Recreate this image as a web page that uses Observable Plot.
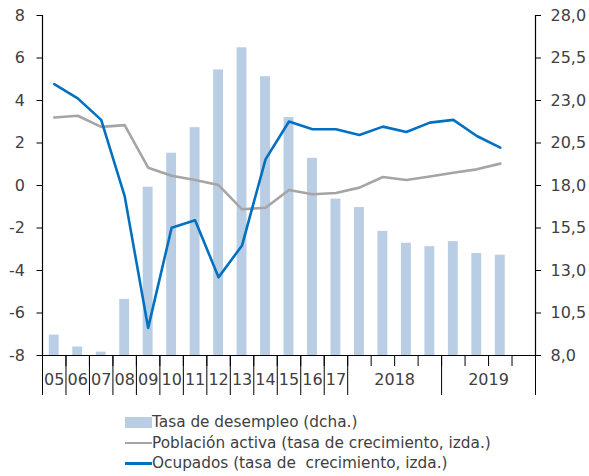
<!DOCTYPE html>
<html><head><meta charset="utf-8">
<script src="https://cdn.jsdelivr.net/npm/d3@7"></script>
<script src="https://cdn.jsdelivr.net/npm/@observablehq/plot@0.6"></script>
<style>
body{margin:0;background:#fff;font-family:"DejaVu Sans",sans-serif;color:#404040}
#chart svg{display:block}
#legend{margin-top:12px;padding-left:125px;font-size:15.3px}
.row{display:flex;align-items:center;height:20.5px;white-space:pre}
.sw{width:27px;height:11px}
.ln{width:27px;height:2.5px}
</style></head><body>
<div id="chart"></div>
<div id="legend"></div>
<script>
const periods = ["05","06","07","08","09","10","11","12","13","14","15","16","17",
  "2018T1","2018T2","2018T3","2018T4","2019T1","2019T2","2019T3","2019T4"];
const desempleo = [9.2,8.5,8.2,11.3,17.9,19.9,21.4,24.8,26.1,24.4,22.0,19.6,17.2,16.7,15.3,14.6,14.4,14.7,14.0,13.9,null];
const activa = [3.2,3.28,2.76,2.84,0.84,0.46,0.26,0.02,-1.12,-1.05,-0.21,-0.41,-0.35,-0.1,0.4,0.26,0.42,0.6,0.76,1.03,null];
const ocupados = [4.77,4.1,3.09,-0.5,-6.7,-1.99,-1.64,-4.32,-2.82,1.23,3.01,2.65,2.65,2.38,2.77,2.52,2.96,3.09,2.33,1.78,null];
const axisLabels = ["05","06","07","08","09","10","11","12","13","14","15","16","17","2018","2019"];
const labelSpans = [1,1,1,1,1,1,1,1,1,1,1,1,1,4,4];
const leftTicks = [-8,-6,-4,-2,0,2,4,6,8];
const rightTicks = [8,10.5,13,15.5,18,20.5,23,25.5,28];
const seriesNames = ["Tasa de desempleo (dcha.)","Población activa (tasa de crecimiento, izda.)","Ocupados (tasa de  crecimiento, izda.)"];
const colors = ["#B9CDE5","#A5A5A5","#0070C0"];

// right axis [8,28] mapped onto left axis [-8,8]
const toLeft = r => -8 + (r - 8) * 16 / 20;
const toRight = v => (v + 8) * 20 / 16 + 8;

const rows = periods.map((p, i) => ({i, p, d: desempleo[i], a: activa[i], o: ocupados[i]}));
const n = periods.length;
const bounds = [0]; labelSpans.forEach(s => bounds.push(bounds[bounds.length - 1] + s));
const labelData = axisLabels.map((t, k) => ({t, c: (bounds[k] + bounds[k + 1]) / 2}));

const chart = Plot.plot({
  width: 589, height: 400,
  marginLeft: 42, marginRight: 54, marginTop: 15, marginBottom: 45,
  style: {fontFamily: "DejaVu Sans", fontSize: "16px", color: "#404040", background: "#fff"},
  x: {domain: [0, n], label: null},
  y: {domain: [-8, 8], label: null},
  marks: [
    Plot.rectY(rows.filter(d => d.d != null), {x1: d => d.i, x2: d => d.i + 1, y1: -8, y2: d => toLeft(d.d), insetLeft: 6.8, insetRight: 6.8, fill: colors[0]}),
    Plot.line(rows.filter(d => d.a != null), {x: d => d.i + 0.5, y: "a", stroke: colors[1], strokeWidth: 2.6}),
    Plot.line(rows.filter(d => d.o != null), {x: d => d.i + 0.5, y: "o", stroke: colors[2], strokeWidth: 2.6}),
    Plot.ruleX([0, n], {stroke: "#000", strokeWidth: 1.2}),
    Plot.ruleY([-8], {stroke: "#000", strokeWidth: 1.2}),
    Plot.axisX({ticks: d3.range(n + 1), tickSize: 11, tickFormat: () => "", stroke: "#000", label: null}),
    Plot.axisX({ticks: bounds, tickSize: 40, tickFormat: () => "", stroke: "#000", label: null}),
    Plot.text(labelData, {x: "c", text: "t", frameAnchor: "bottom", dy: 29, fontSize: 16, fill: "#404040"}),
    Plot.axisY({ticks: leftTicks, anchor: "left", tickSize: 5.5, tickPadding: 12, tickFormat: d => String(d), stroke: "#000", fill: "#404040", fontSize: 16, label: null}),
    Plot.axisY({ticks: rightTicks.map(toLeft), anchor: "right", tickSize: 5, tickPadding: 10, tickFormat: v => toRight(v).toFixed(1).replace(".", ","), stroke: "#000", fill: "#404040", fontSize: 16, label: null})
  ]
});
document.getElementById("chart").appendChild(chart);

const legend = document.getElementById("legend");
seriesNames.forEach((name, k) => {
  const row = document.createElement("div");
  row.className = "row";
  const sw = document.createElement("div");
  sw.className = k === 0 ? "sw" : "ln";
  sw.style.background = colors[k];
  const tx = document.createElement("span");
  tx.textContent = name;
  row.appendChild(sw); row.appendChild(tx);
  legend.appendChild(row);
});
</script>
</body></html>
